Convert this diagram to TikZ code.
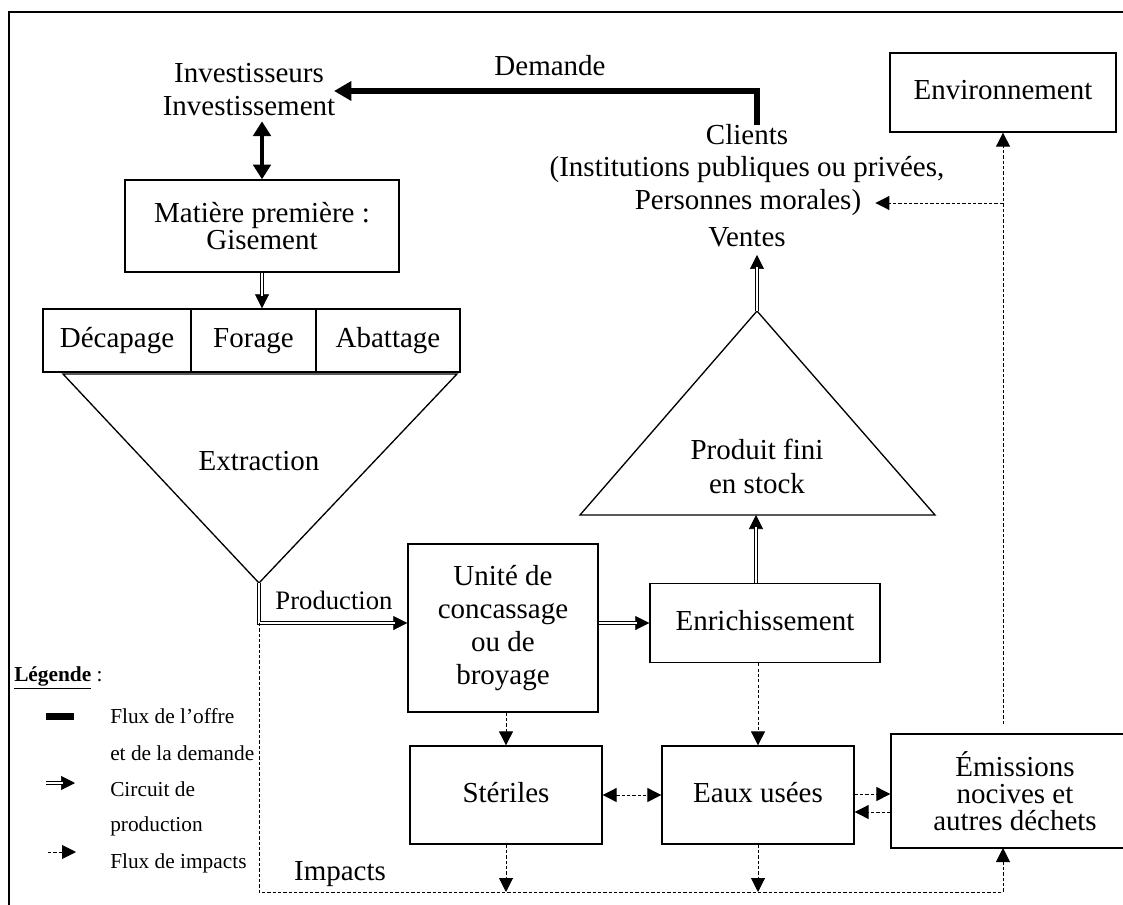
\documentclass[tikz,border=0pt]{standalone}
\usepackage{fontspec}
\setmainfont{Liberation Serif}
\usetikzlibrary{arrows.meta,calc}
\newcommand\dblarr[1]{\draw[tipln] #1; \draw[dbl, shorten >=9pt] #1;}
\begin{document}
\begin{tikzpicture}[x=0.75pt,y=-0.75pt,
  txt/.style={font=\fontsize{21.75}{25}\selectfont, inner sep=0pt, align=center},
  box/.style={draw, line width=1pt, font=\fontsize{21.75}{25}\selectfont, align=center, inner sep=0pt},
  oneline/.style={text height=15pt, text depth=4.5pt},
  lgd/.style={font=\fontsize{16}{19}\selectfont, inner sep=0pt, anchor=west},
  thickarr/.style={line width=4.5pt, -{Triangle[length=13pt,width=14pt]}},
  dbl/.style={double, double distance=1.6pt, line width=0.75pt},
  tipln/.style={line width=0.5pt, -{Triangle[length=10.5pt,width=10.5pt]}},
  dsh/.style={line width=0.7pt, dash pattern=on 2.4pt off 1.6pt},
  dsharr/.style={dsh, -{Triangle[length=10.5pt,width=10.5pt]}},
  dsharr2/.style={dsh, {Triangle[length=10.5pt,width=10.5pt]}-{Triangle[length=10.5pt,width=10.5pt]}},
  shape1/.style={line width=1pt, line join=miter},
]
\useasboundingbox (0,0) rectangle (1123,905);
\clip (0,0) rectangle (1123,905);

% frame
\draw[line width=1.2pt] (1130,12) -- (9,12) -- (9,912);

% top-left
\node[txt] (invs) at (249,73) {Investisseurs};
\node[txt] (inve) at (249,106) {Investissement};
\node[txt] (demande) at (550,66) {Demande};
\node[box, minimum width=205.5pt, minimum height=69pt, font=\fontsize{21.75}{20.25}\selectfont] (mat) at (262,226) {Matière première :\\Gisement};

% row of operations
\node[box, oneline, minimum width=111pt, minimum height=47.25pt] (dec) at (117,340.5) {Décapage};
\node[box, oneline, minimum width=93.75pt, minimum height=47.25pt] (for) at (253.5,340.5) {Forage};
\node[box, oneline, minimum width=108pt, minimum height=47.25pt] (aba) at (388,340.5) {Abattage};

% extraction triangle
\coordinate (etl) at (63,374);
\coordinate (etr) at (457,374);
\coordinate (ext) at (259,583);
\draw[shape1] (etl) -- (etr) -- (ext) -- cycle;
\node[txt] (extr) at (259,461) {Extraction};

% clients
\node[txt] (clients) at (747,135) {Clients};
\node[txt] (inst) at (747,170) {(Institutions publiques ou privées,};
\node[txt] (pers) at (748,203) {Personnes morales)};
\node[txt] (ventes) at (747,237) {Ventes};

\node[box, oneline, minimum width=169.5pt, minimum height=59.25pt] (env) at (1003,92.5) {Environnement};

% produit fini triangle
\coordinate (papex) at (757,311);
\coordinate (pbl) at (580,515);
\coordinate (pbr) at (935,515);
\draw[shape1] (papex) -- (pbr) -- (pbl) -- cycle;
\node[txt, font=\fontsize{21.75}{25.5}\selectfont] (prod) at (757,466) {Produit fini\\en stock};

% processing boxes
\node[box, minimum width=142.5pt, minimum height=126pt, font=\fontsize{21.75}{24.75}\selectfont] (unite) at (503,628) {Unité de\\concassage\\ou de\\broyage};
\node[box, oneline, minimum width=172.5pt, minimum height=59.25pt] (enrich) at (765,623) {Enrichissement};
\node[box, oneline, minimum width=144pt, minimum height=73.5pt] (ster) at (506,795) {Stériles};
\node[box, oneline, minimum width=144pt, minimum height=73.5pt] (eaux) at (758,795) {Eaux usées};
\node[box, minimum width=186pt, minimum height=85.5pt, font=\fontsize{21.75}{20.25}\selectfont] (emis) at (1015,791) {Émissions\\nocives et\\autres déchets};

\node[txt, font=\fontsize{20}{24}\selectfont] (prodlab) at (334,600) {Production};
\node[txt] (implab) at (340,874) {Impacts};

% thick demand flow
\coordinate (dtip) at (334,91);
\draw[thickarr, line join=miter] ([xshift=7.5pt]clients.north) |- (dtip);
\draw[line width=3pt, {Triangle[length=11pt,width=13pt]}-{Triangle[length=11pt,width=13pt]}] ([yshift=-4pt]inve.south -| mat.north) -- (mat.north);

% production circuit
\dblarr{(mat.south) -- (mat.south |- for.north)}
\coordinate (pcorner) at (ext |- enrich.west);
\dblarr{(ext) |- (unite.west |- enrich.west)}
\dblarr{(unite.east |- enrich.west) -- (enrich.west)}
\dblarr{([xshift=-6.75pt]enrich.north) -- ([xshift=-6.75pt]enrich.north |- pbl)}
\dblarr{(papex) -- ([yshift=-6pt]ventes.south -| papex)}

% impacts
\coordinate (ibl) at (259,892);
\coordinate (ebot) at (1003,848);
\draw[dsharr] (pcorner) -- (ibl) -| (ebot);
\draw[dsharr] (ster.north |- unite.south) -- (ster.north);
\draw[dsharr] (eaux.north |- enrich.south) -- (eaux.north);
\draw[dsharr2] (ster.east) -- (eaux.west);
\draw[dsharr] ([yshift=0.75pt]eaux.east) -- ([yshift=0.75pt]eaux.east -| emis.west);
\draw[dsharr] ([yshift=-12.75pt]eaux.east -| emis.west) -- ([yshift=-12.75pt]eaux.east);
\draw[dsharr] (ster.south) -- (ster.south |- ibl);
\draw[dsharr] (eaux.south) -- (eaux.south |- ibl);
\coordinate (br) at (env.south |- pers.east);
\draw[dsharr, shorten <=7pt] (env.south |- emis.north) -- (env.south);
\draw[dsharr, shorten >=10.5pt] (br) -- (pers.east);

% legend
\node[lgd] (lgtitle) at (14,678) {\textbf{\underline{Légende}} :};
\coordinate (l1a) at (46,716); \coordinate (l1b) at (74,716);
\draw[line width=5.25pt] (l1a) -- (l1b);
\coordinate (l2a) at (46,783); \coordinate (l2b) at (75,783);
\dblarr{(l2a) -- (l2b)}
\coordinate (l3a) at (48,852); \coordinate (l3b) at (76,852);
\draw[dsharr] (l3a) -- (l3b);
\node[lgd] (lt1) at (110,716) {Flux de l’offre};
\node[lgd] (lt2) at (110,753) {et de la demande};
\node[lgd] (lt3) at (110,789) {Circuit de};
\node[lgd] (lt4) at (110,826) {production};
\node[lgd] (lt5) at (110,863) {Flux de impacts};
\end{tikzpicture}
\end{document}
